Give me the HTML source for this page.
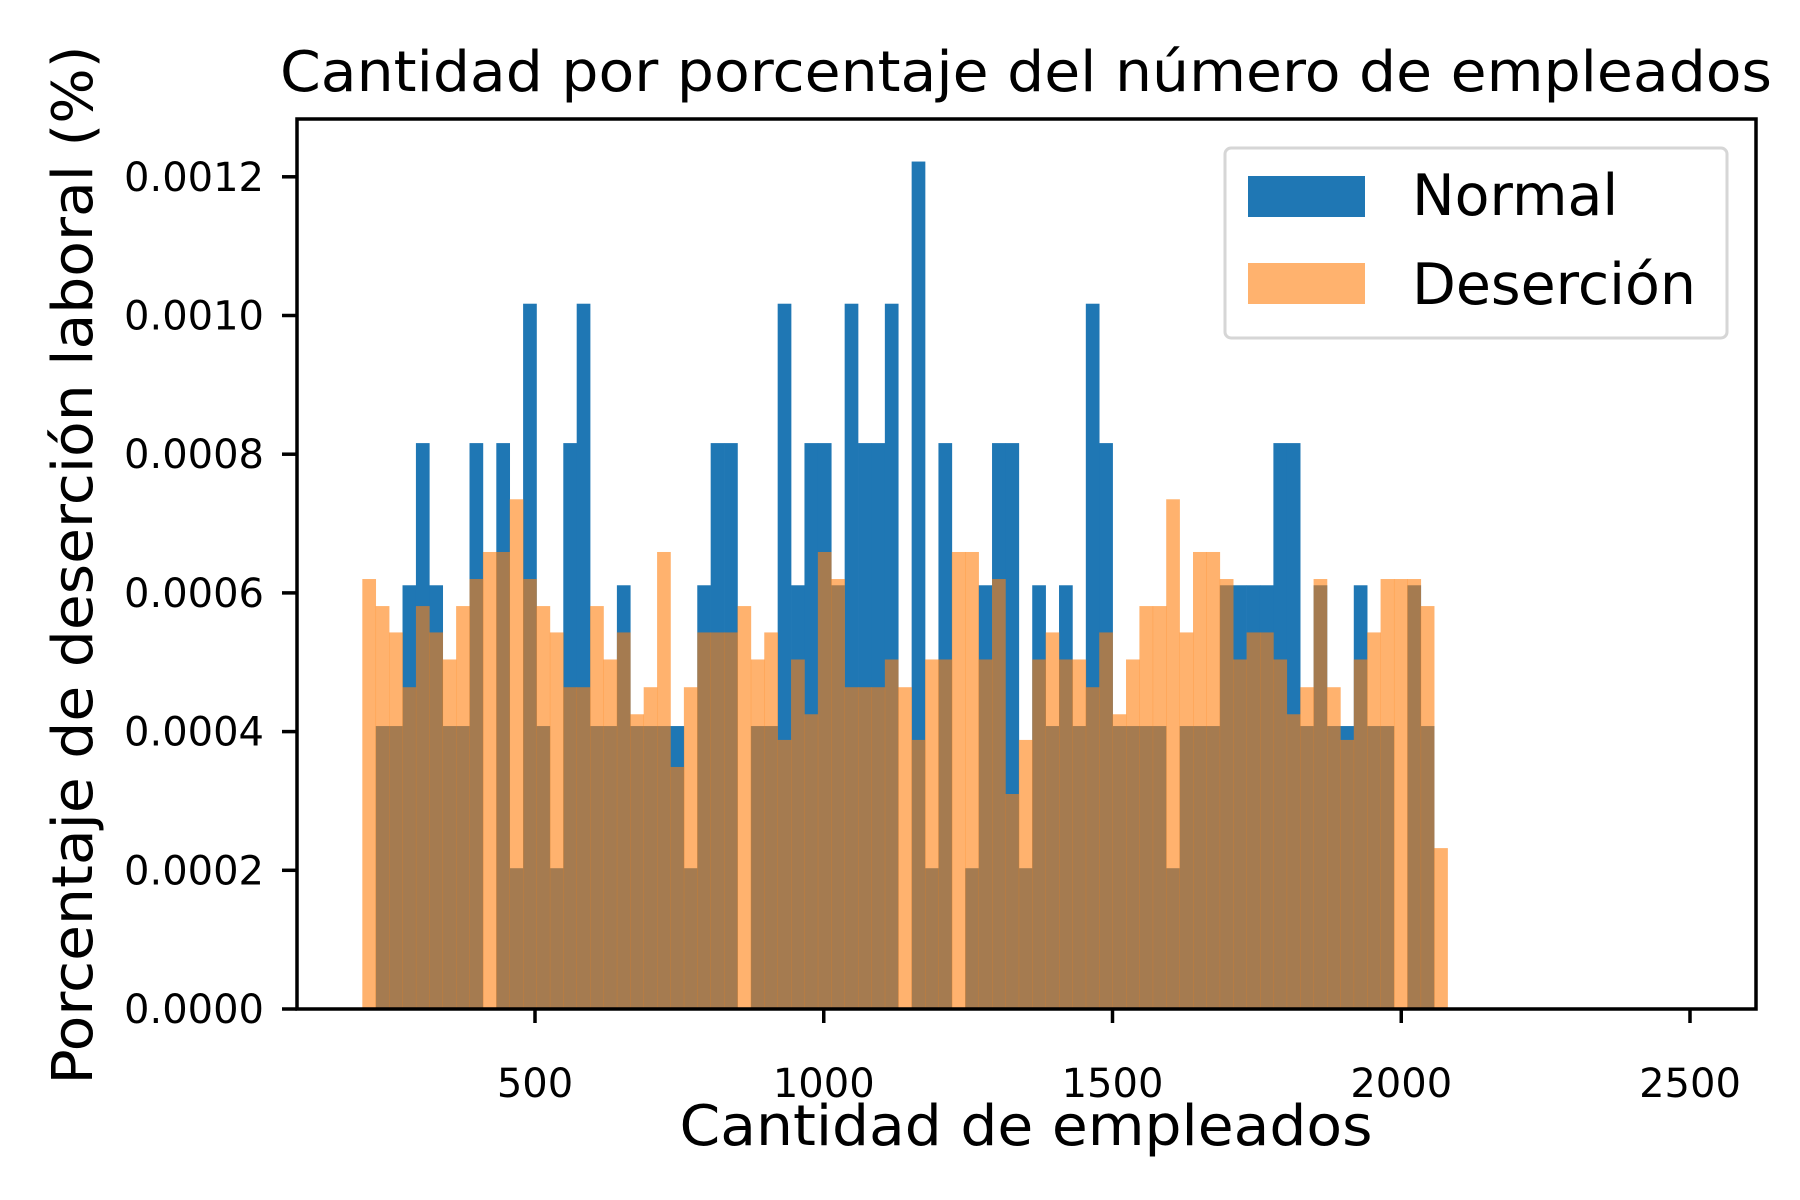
<!DOCTYPE html>
<html><head><meta charset="utf-8"><style>html,body{margin:0;padding:0;background:#fff}svg{display:block}text{font-family:"DejaVu Sans","Liberation Sans",sans-serif;fill:#000}</style></head>
<body>
<svg id="chart" width="1800" height="1200" viewBox="0 0 1800 1200" xmlns="http://www.w3.org/2000/svg">
<rect width="1800" height="1200" fill="#fff"/>
<g id="bars"></g>
<g id="axes"></g>
<text x="1026" y="91" font-size="56" text-anchor="middle" textLength="1492" lengthAdjust="spacingAndGlyphs">Cantidad por porcentaje del número de empleados</text>
<text x="1026" y="1145" font-size="56" text-anchor="middle" textLength="693" lengthAdjust="spacingAndGlyphs">Cantidad de empleados</text>
<text transform="translate(92,565) rotate(-90)" font-size="56" text-anchor="middle" textLength="1039" lengthAdjust="spacingAndGlyphs">Porcentaje de deserción laboral (%)</text>
<g>
<rect x="1225" y="148" width="502" height="190" rx="6" fill="#fff" stroke="#d6d6d6" stroke-width="3"/>
<rect x="1248" y="176" width="117" height="41" fill="#1f77b4"/>
<text x="1412" y="215" font-size="57">Normal</text>
<rect x="1248" y="263" width="117" height="41" fill="#ff7f0e" fill-opacity="0.6"/>
<text x="1412" y="304" font-size="57" textLength="284" lengthAdjust="spacingAndGlyphs">Deserción</text>
</g>
</svg>
<script>
const binStart = 201;
const binWidth = 23.2;
const normalValues = [0,0.000408,0.000408,0.000611,0.000816,0.000611,0.000408,0.000408,0.000816,0,
0.000816,0.000203,0.001017,0.000408,0.000203,0.000816,0.001017,0.000408,0.000408,0.000611,
0.000408,0.000408,0.000408,0.000408,0.000203,0.000611,0.000816,0.000816,0,0.000408,
0.000408,0.001017,0.000611,0.000816,0.000816,0.000611,0.001017,0.000816,0.000816,0.001017,
0,0.001222,0.000203,0.000816,0,0.000203,0.000611,0.000816,0.000816,0.000203,
0.000611,0.000408,0.000611,0.000408,0.001017,0.000816,0.000408,0.000408,0.000408,0.000408,
0.000203,0.000408,0.000408,0.000408,0.000611,0.000611,0.000611,0.000611,0.000816,0.000816,
0.000408,0.000611,0.000408,0.000408,0.000611,0.000408,0.000408,0,0.000611,0.000408,0];
const desercionValues = [0.000620,0.000581,0.000543,0.000464,0.000581,0.000543,0.000504,0.000581,0.000620,0.000659,
0.000659,0.000735,0.000620,0.000581,0.000543,0.000464,0.000464,0.000581,0.000504,0.000543,
0.000425,0.000464,0.000659,0.000349,0.000464,0.000543,0.000543,0.000543,0.000581,0.000504,
0.000543,0.000388,0.000504,0.000425,0.000659,0.000620,0.000464,0.000464,0.000464,0.000504,
0.000464,0.000388,0.000504,0.000504,0.000659,0.000659,0.000504,0.000620,0.000310,0.000388,
0.000504,0.000543,0.000504,0.000504,0.000464,0.000543,0.000425,0.000504,0.000581,0.000581,
0.000735,0.000543,0.000659,0.000659,0.000620,0.000504,0.000543,0.000543,0.000504,0.000425,
0.000464,0.000620,0.000464,0.000388,0.000504,0.000543,0.000620,0.000620,0.000620,0.000581,0.000232];
const xTicks = [500,1000,1500,2000,2500];
const xTickLabels = ["500","1000","1500","2000","2500"];
const yTicks = [0,0.0002,0.0004,0.0006,0.0008,0.0010,0.0012];
const yTickLabels = ["0.0000","0.0002","0.0004","0.0006","0.0008","0.0010","0.0012"];

const NS = "http://www.w3.org/2000/svg";
const plot = {left:297, right:1756, top:119, bottom:1009};
function xs(v){ return 535 + (v-500)*0.5775; }
function ys(v){ return 1009 - v*693500; }
function mk(tag, attrs, parent){ const e=document.createElementNS(NS,tag); for(const k in attrs) e.setAttribute(k,attrs[k]); parent.appendChild(e); return e; }

const bars = document.getElementById('bars');
normalValues.forEach((v,i)=>{
  if(!v) return;
  const x0=xs(binStart+i*binWidth), x1=xs(binStart+(i+1)*binWidth);
  const r=mk('rect',{x:x0,y:ys(v),width:x1-x0+0.3,height:ys(0)-ys(v),fill:'#1f77b4'},bars);
  
  
});
desercionValues.forEach((v,i)=>{
  if(!v) return;
  const x0=xs(binStart+i*binWidth), x1=xs(binStart+(i+1)*binWidth);
  const r=mk('rect',{x:x0,y:ys(v),width:x1-x0+0.3,height:ys(0)-ys(v),fill:'#ff7f0e','fill-opacity':0.6},bars);
  
  
});

const axes = document.getElementById('axes');
const frame = mk('rect',{x:plot.left,y:plot.top,width:plot.right-plot.left,height:plot.bottom-plot.top,fill:'none',stroke:'#000','stroke-width':3.5},axes);


xTicks.forEach((t,i)=>{
  const x=xs(t);
  const l=mk('line',{x1:x,x2:x,y1:plot.bottom,y2:plot.bottom+14,stroke:'#000','stroke-width':3.5},axes);
  
  
  const tx=mk('text',{x:x,y:1097,'font-size':40,'text-anchor':'middle'},axes);
  tx.textContent=xTickLabels[i];
  
  
});
yTicks.forEach((t,i)=>{
  const y=ys(t);
  const l=mk('line',{x1:plot.left-15,x2:plot.left,y1:y,y2:y,stroke:'#000','stroke-width':3.5},axes);
  
  
  const tx=mk('text',{x:264,y:y+14,'font-size':40,'text-anchor':'end'},axes);
  tx.textContent=yTickLabels[i];
  
  
});
</script>
</body></html>
